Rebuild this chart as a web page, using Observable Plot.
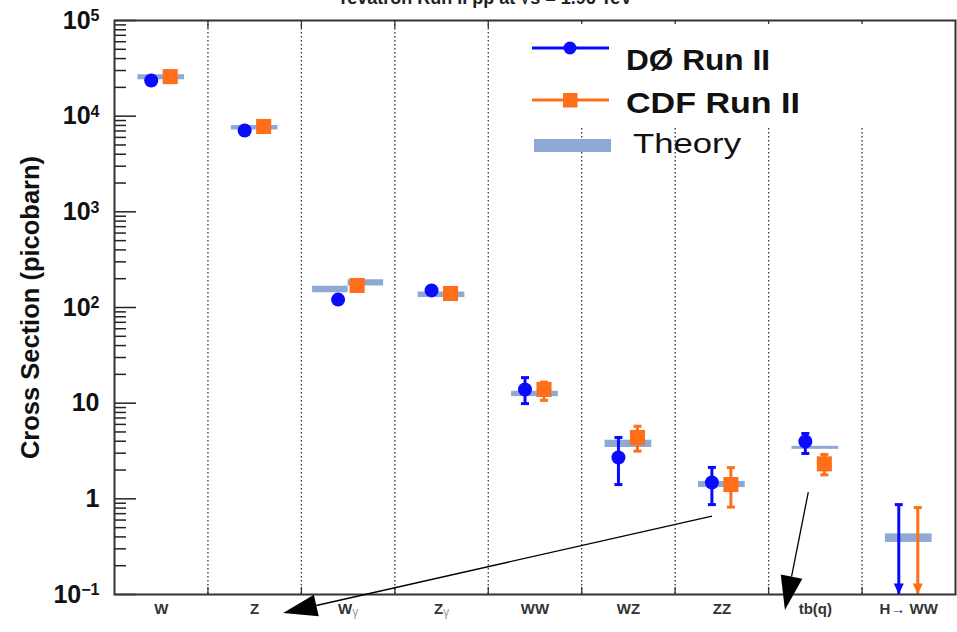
<!DOCTYPE html>
<html>
<head>
<meta charset="utf-8">
<script src="https://cdn.jsdelivr.net/npm/d3@7"></script>
<script src="https://cdn.jsdelivr.net/npm/@observablehq/plot@0.6"></script>
<style>
  html, body { margin: 0; padding: 0; background: #fff; overflow: hidden; }
  #chart { position: relative; width: 957px; height: 632px; }
</style>
</head>
<body>
<div id="chart"></div>
<script>
// ---- data ----
const categories = ["W", "Z", "Wγ", "Zγ", "WW", "WZ", "ZZ", "tb(q)", "H→ WW"];

// DØ Run II measurements (picobarn)
const d0Value = [23600, 7080, 121, 151, 13.9, 2.70, 1.48, 3.97, null];
const d0Low   = [null, null, null, null, 9.9, 1.41, 0.87, 2.98, null];
const d0High  = [null, null, null, null, 18.5, 4.38, 2.13, 4.82, null];
const d0Limit = [null, null, null, null, null, null, null, null, 0.87];

// CDF Run II measurements (picobarn)
const cdfValue = [25900, 7800, 170, 140, 13.9, 4.38, 1.41, 2.32, null];
const cdfLow   = [null, null, null, null, 10.7, 3.15, 0.82, 1.78, null];
const cdfHigh  = [null, null, null, null, 16.6, 5.74, 2.12, 2.91, null];
const cdfLimit = [null, null, null, null, null, null, null, null, 0.81];

// Theory predictions (band low / high, picobarn)
const theoryCategory = ["W", "Z", "Wγ", "Wγ", "Zγ", "WW", "WZ", "ZZ", "tb(q)", "H→ WW"];
const theorySide     = ["both", "both", "DØ", "CDF", "both", "both", "both", "both", "both", "both"];
const theoryLow      = [24000, 7170, 142.6, 168, 127, 11.7, 3.44, 1.31, 3.29, 0.35];
const theoryHigh     = [27100, 7980, 167, 195, 145, 13.3, 4.10, 1.52, 3.54, 0.43];

// y axis ticks
const yMajorTicks  = [0.1, 1, 10, 100, 1e3, 1e4, 1e5];
const yMajorLabels = ["10^−1", "1", "10", "10^2", "10^3", "10^4", "10^5"];

// hand-drawn annotation arrows (data coordinates: category index, picobarn)
const annotFromX = [5.90, 6.93];
const annotFromY = [0.653, 1.16];
const annotToX   = [1.31, 6.68];
const annotToY   = [0.0633, 0.068];

// ---- derived tables ----
const BLUE = "#0a0aff", ORANGE = "#ff6f1a", THEORY = "#8fa9d5";
const idx = c => categories.indexOf(c);
const rows = categories.map((c, i) => ({
  i, c,
  d0: d0Value[i], d0Lo: d0Low[i], d0Hi: d0High[i], d0Lim: d0Limit[i],
  cdf: cdfValue[i], cdfLo: cdfLow[i], cdfHi: cdfHigh[i], cdfLim: cdfLimit[i]
}));
const theory = theoryCategory.map((c, k) => {
  const i = idx(c), s = theorySide[k];
  const x1 = s === "both" ? i - 0.25 : s === "DØ" ? i - 0.38 : i;
  const x2 = s === "both" ? i + 0.25 : s === "DØ" ? i : i + 0.38;
  return {x1, x2, lo: theoryLow[k], hi: theoryHigh[k]};
});
const d0Err = rows.filter(r => r.d0Lo != null);
const cdfErr = rows.filter(r => r.cdfLo != null);
const d0Caps = d0Err.flatMap(r => [{i: r.i, v: r.d0Lo}, {i: r.i, v: r.d0Hi}]);
const cdfCaps = cdfErr.flatMap(r => [{i: r.i, v: r.cdfLo}, {i: r.i, v: r.cdfHi}]);
const d0Lims = rows.filter(r => r.d0Lim != null);
const cdfLims = rows.filter(r => r.cdfLim != null);
const annotations = annotFromX.map((_, k) => ({fx: annotFromX[k], fy: annotFromY[k], tx: annotToX[k], ty: annotToY[k]}));

const yMinor = [];
for (let e = -1; e < 5; e++) for (let m = 2; m <= 9; m++) yMinor.push(m * Math.pow(10, e));
const dividers = d3.range(8).map(i => i + 0.5);

const capSym = {draw(ctx) { ctx.moveTo(-4, 0); ctx.lineTo(4, 0); }};
const headSym = {draw(ctx) { ctx.moveTo(-5, -11); ctx.lineTo(5, -11); ctx.lineTo(0, 0); ctx.closePath(); }};

const D0DX = -10, CDFDX = 9;

function annotationMark(index, scales) {
  const g = d3.create("svg:g").attr("aria-label", "annotation arrows");
  for (const a of annotations) {
    const x1 = scales.x(a.fx), y1 = scales.y(a.fy), x2 = scales.x(a.tx), y2 = scales.y(a.ty);
    const ang = Math.atan2(y2 - y1, x2 - x1);
    const L = 34, W = 11;
    const bx = x2 - L * Math.cos(ang), by = y2 - L * Math.sin(ang);
    const px = -Math.sin(ang) * W, py = Math.cos(ang) * W;
    g.append("line").attr("x1", x1).attr("y1", y1).attr("x2", bx).attr("y2", by)
      .attr("stroke", "#000").attr("stroke-width", 1.3);
    g.append("path").attr("d", `M${x2},${y2}L${bx + px},${by + py}L${bx - px},${by - py}Z`).attr("fill", "#000");
  }
  return g.node();
}

const plot = Plot.plot({
  width: 957,
  height: 632,
  marginLeft: 114,
  marginRight: 2,
  marginTop: 20,
  marginBottom: 38,
  style: {fontFamily: "'Liberation Sans', Arial, sans-serif", background: "#fff", overflow: "visible"},
  x: {domain: [-0.5, 8.5]},
  y: {type: "log", domain: [0.1, 1e5]},
  marks: [
    Plot.ruleX(dividers, {stroke: "#333", strokeWidth: 1.3, strokeDasharray: "1.6,2.4"}),
    Plot.rect(theory, {x1: "x1", x2: "x2", y1: "lo", y2: "hi", fill: THEORY}),
    // error bars
    Plot.ruleX(d0Err, {x: "i", y1: "d0Lo", y2: "d0Hi", stroke: BLUE, strokeWidth: 3, dx: D0DX}),
    Plot.dot(d0Caps, {x: "i", y: "v", symbol: capSym, stroke: BLUE, fill: "none", strokeWidth: 3, dx: D0DX}),
    Plot.ruleX(cdfErr, {x: "i", y1: "cdfLo", y2: "cdfHi", stroke: ORANGE, strokeWidth: 3, dx: CDFDX}),
    Plot.dot(cdfCaps, {x: "i", y: "v", symbol: capSym, stroke: ORANGE, fill: "none", strokeWidth: 3, dx: CDFDX}),
    // upper limits
    Plot.ruleX(d0Lims, {x: "i", y1: "d0Lim", y2: 0.1, stroke: BLUE, strokeWidth: 3, dx: D0DX}),
    Plot.dot(d0Lims, {x: "i", y: "d0Lim", symbol: capSym, stroke: BLUE, fill: "none", strokeWidth: 3, dx: D0DX}),
    Plot.dot(d0Lims, {x: "i", y: 0.1, symbol: headSym, fill: BLUE, dx: D0DX}),
    Plot.ruleX(cdfLims, {x: "i", y1: "cdfLim", y2: 0.1, stroke: ORANGE, strokeWidth: 3, dx: CDFDX}),
    Plot.dot(cdfLims, {x: "i", y: "cdfLim", symbol: capSym, stroke: ORANGE, fill: "none", strokeWidth: 3, dx: CDFDX}),
    Plot.dot(cdfLims, {x: "i", y: 0.1, symbol: headSym, fill: ORANGE, dx: CDFDX}),
    // markers
    Plot.dot(rows.filter(r => r.d0 != null), {x: "i", y: "d0", r: 7, fill: BLUE, dx: D0DX}),
    Plot.dot(rows.filter(r => r.cdf != null), {x: "i", y: "cdf", r: 8.5, symbol: "square", fill: ORANGE, dx: CDFDX}),
    // axes
    Plot.axisY({ticks: yMajorTicks, tickSize: -22, fill: "none", label: null, stroke: "#222", strokeWidth: 1.5}),
    Plot.axisY({ticks: yMinor, tickSize: -12, fill: "none", label: null, stroke: "#222", strokeWidth: 1.5}),
    Plot.axisY({ticks: yMajorTicks, tickSize: 0, tickPadding: 15, label: null,
      tickFormat: v => yMajorLabels[yMajorTicks.indexOf(v)], fontSize: 25, fontWeight: "bold", fill: "#111"}),
    Plot.axisX({ticks: d3.range(9), tickSize: 0, tickPadding: 9, label: null,
      tickFormat: i => categories[i], fontSize: 15, fontWeight: "bold", fill: "#333"}),
    Plot.axisX({anchor: "bottom", ticks: dividers, tickSize: -7, fill: "none", label: null, stroke: "#333", strokeWidth: 1.3}),
    Plot.axisX({anchor: "top", ticks: dividers, tickSize: -7, fill: "none", label: null, stroke: "#333", strokeWidth: 1.3}),
    Plot.text(["Cross Section (picobarn)"], {text: d => d, frameAnchor: "left", textAnchor: "middle", rotate: -90,
      dx: -84, fontSize: 25.5, fontWeight: "bold", fill: "#111"}),
    Plot.frame({stroke: "#333", strokeWidth: 2}),
    annotationMark
  ]
});

document.getElementById("chart").appendChild(plot);
const svg = d3.select(plot);

// superscripts on y tick labels
svg.selectAll('g[aria-label="y-axis tick label"] text').each(function () {
  const t = this.textContent;
  if (t.includes("^")) {
    const [base, exp] = t.split("^");
    const sel = d3.select(this);
    sel.text("");
    sel.append("tspan").text(base);
    sel.append("tspan").attr("dy", "-0.45em").attr("font-size", 16).text(exp);
  }
});
// light gamma in x labels
svg.selectAll('g[aria-label="x-axis tick label"] text').each(function () {
  const t = this.textContent;
  if (t.includes("γ")) {
    const sel = d3.select(this);
    sel.text("");
    sel.append("tspan").text(t.replace("γ", ""));
    sel.append("tspan").attr("font-weight", "normal").attr("fill", "#999").attr("font-size", 12).attr("dy", "0.15em").text("γ");
  }
});

// title (cut at the top edge, as in the reference)
svg.append("text").attr("x", 485).attr("y", 4).attr("text-anchor", "middle")
  .attr("font-size", 18).attr("font-weight", "bold").attr("fill", "#222")
  .text("Tevatron Run II pp\u0304 at \u221As = 1.96 TeV");

// legend
const lg = svg.append("g").attr("aria-label", "legend").attr("text-anchor", "start");
lg.append("rect").attr("x", 495).attr("y", 24).attr("width", 375).attr("height", 104).attr("fill", "#fff");
lg.append("line").attr("x1", 532).attr("x2", 609).attr("y1", 48).attr("y2", 48).attr("stroke", BLUE).attr("stroke-width", 3);
lg.append("circle").attr("cx", 570).attr("cy", 48).attr("r", 6.5).attr("fill", BLUE);
lg.append("text").attr("x", 626).attr("y", 70).attr("font-size", 30).attr("font-weight", "bold").attr("fill", "#111")
  .attr("textLength", 144).attr("lengthAdjust", "spacingAndGlyphs").text("DØ Run II");
lg.append("line").attr("x1", 532).attr("x2", 609).attr("y1", 100).attr("y2", 100).attr("stroke", ORANGE).attr("stroke-width", 3);
lg.append("rect").attr("x", 563).attr("y", 93).attr("width", 14.5).attr("height", 14.5).attr("fill", ORANGE);
lg.append("text").attr("x", 626).attr("y", 113).attr("font-size", 30).attr("font-weight", "bold").attr("fill", "#111")
  .attr("textLength", 174).attr("lengthAdjust", "spacingAndGlyphs").text("CDF Run II");
lg.append("rect").attr("x", 534).attr("y", 139).attr("width", 77).attr("height", 13).attr("fill", THEORY);
lg.append("text").attr("x", 633).attr("y", 153).attr("font-size", 28).attr("fill", "#111")
  .attr("textLength", 108).attr("lengthAdjust", "spacingAndGlyphs").text("Theory");
</script>
</body>
</html>
